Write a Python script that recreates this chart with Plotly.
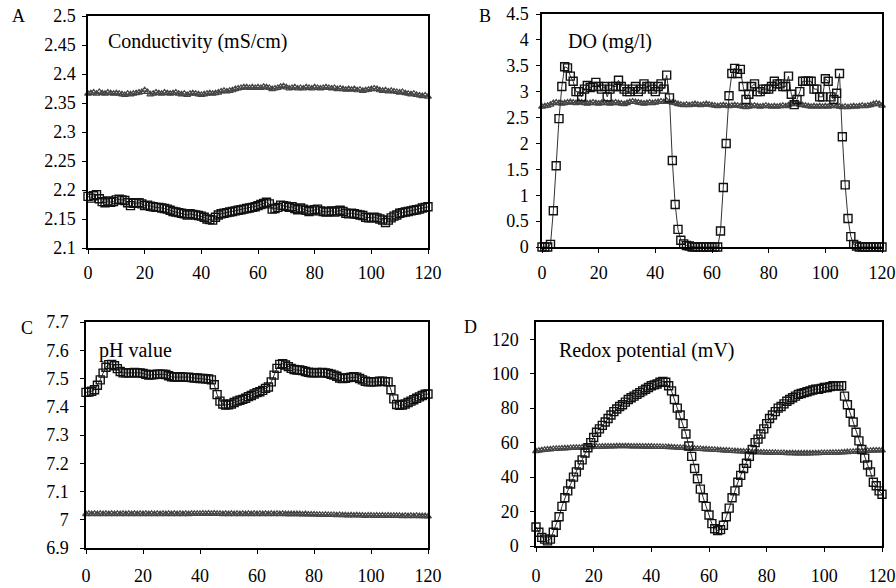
import plotly.graph_objects as go

minutes = list(range(0, 121))
x_ticks = [0, 20, 40, 60, 80, 100, 120]

cond_sq = [2.189, 2.186, 2.190, 2.192, 2.185, 2.180, 2.178, 2.181, 2.179, 2.180,
           2.183, 2.184, 2.183, 2.182, 2.178, 2.173, 2.177, 2.178, 2.178, 2.176,
           2.173, 2.174, 2.172, 2.171, 2.170, 2.170, 2.169, 2.168, 2.167, 2.165,
           2.163, 2.162, 2.161, 2.160, 2.159, 2.157, 2.159, 2.158, 2.157, 2.156,
           2.155, 2.153, 2.150, 2.149, 2.148, 2.153, 2.157, 2.159, 2.160, 2.161,
           2.162, 2.163, 2.164, 2.165, 2.166, 2.167, 2.168, 2.169, 2.170, 2.171,
           2.173, 2.175, 2.177, 2.179, 2.176, 2.167, 2.168, 2.170, 2.174, 2.173,
           2.172, 2.170, 2.171, 2.168, 2.166, 2.169, 2.167, 2.165, 2.163, 2.164,
           2.166, 2.167, 2.164, 2.163, 2.162, 2.163, 2.164, 2.162, 2.164, 2.165,
           2.163, 2.160, 2.159, 2.160, 2.159, 2.158, 2.157, 2.156, 2.153, 2.152,
           2.152, 2.153, 2.152, 2.150, 2.148, 2.144, 2.148, 2.152, 2.155, 2.157,
           2.160, 2.161, 2.162, 2.163, 2.164, 2.165, 2.166, 2.167, 2.169, 2.170,
           2.171]
cond_tri = [2.366, 2.367, 2.368, 2.366, 2.369, 2.367, 2.366, 2.368, 2.367, 2.366,
            2.367, 2.366, 2.365, 2.364, 2.366, 2.365, 2.366, 2.367, 2.368, 2.369,
            2.372, 2.369, 2.365, 2.366, 2.368, 2.367, 2.366, 2.368, 2.367, 2.366,
            2.367, 2.368, 2.366, 2.365, 2.366, 2.364, 2.366, 2.367, 2.366, 2.365,
            2.364, 2.365, 2.366, 2.367, 2.366, 2.367, 2.368, 2.370, 2.371, 2.370,
            2.371, 2.372, 2.374, 2.375, 2.376, 2.377, 2.377, 2.376, 2.377, 2.376,
            2.377, 2.376, 2.378, 2.377, 2.376, 2.374, 2.375, 2.376, 2.378, 2.379,
            2.377, 2.375, 2.376, 2.377, 2.375, 2.376, 2.375, 2.377, 2.376, 2.375,
            2.377, 2.376, 2.375, 2.376, 2.377, 2.376, 2.375, 2.376, 2.374, 2.375,
            2.374, 2.373, 2.374, 2.373, 2.374, 2.372, 2.373, 2.371, 2.372, 2.373,
            2.374, 2.375, 2.374, 2.372, 2.371, 2.372, 2.370, 2.371, 2.370, 2.369,
            2.368, 2.369, 2.367, 2.366, 2.365, 2.366, 2.364, 2.363, 2.362, 2.363,
            2.361]

do_sq = [0, 0, 0, 0.05, 0.7, 1.57, 2.48, 3.1, 3.48, 3.46,
         3.3, 3.2, 3.0, 3.0, 2.9, 3.05, 3.12, 3.08, 3.1, 3.18,
         3.1, 3.05, 3.1, 2.9, 3.05, 3.1, 3.1, 3.22, 3.1, 3.05,
         3.0, 3.0, 3.05, 3.1, 3.0, 3.05, 3.15, 3.1, 3.1, 3.05,
         3.0, 3.1, 3.15, 3.05, 3.32, 2.88, 1.67, 0.82, 0.34, 0.13,
         0.06, 0.03, 0.02, 0, 0, 0, 0, 0, 0, 0,
         0, 0, 0, 0.31, 1.15, 2.0, 2.92, 3.35, 3.45, 3.35,
         3.43, 3.1, 2.85, 2.95, 3.1, 3.15, 3.0, 3.0, 3.05, 3.05,
         3.05, 3.1, 3.2, 3.15, 3.15, 3.1, 3.1, 3.3, 2.95, 2.75,
         2.85, 3.0, 3.2, 3.2, 3.2, 3.2, 3.05, 3.05, 2.9, 2.9,
         3.25, 3.2, 2.9, 2.85, 2.97, 3.35, 2.13, 1.2, 0.55, 0.2,
         0.05, 0.02, 0, 0, 0, 0, 0, 0, 0, 0,
         0]
do_tri = [2.71, 2.72, 2.73, 2.75, 2.78, 2.79, 2.78, 2.77, 2.78, 2.79,
          2.80, 2.79, 2.78, 2.80, 2.79, 2.78, 2.77, 2.78, 2.79, 2.78,
          2.77, 2.78, 2.79, 2.78, 2.77, 2.78, 2.79, 2.78, 2.77, 2.76,
          2.78, 2.80, 2.81, 2.80, 2.79, 2.78, 2.77, 2.78, 2.79, 2.78,
          2.79, 2.80, 2.81, 2.80, 2.82, 2.80, 2.79, 2.78, 2.76, 2.75,
          2.74, 2.75, 2.74, 2.75, 2.76, 2.75, 2.74, 2.75, 2.76, 2.75,
          2.74, 2.73, 2.72, 2.73, 2.74, 2.73, 2.72, 2.73, 2.74, 2.73,
          2.72, 2.71, 2.70, 2.71, 2.72, 2.73, 2.72, 2.71, 2.72, 2.73,
          2.72, 2.71, 2.72, 2.71, 2.72, 2.73, 2.72, 2.74, 2.76, 2.77,
          2.76, 2.75, 2.74, 2.73, 2.72, 2.71, 2.72, 2.71, 2.72, 2.71,
          2.72, 2.71, 2.72, 2.73, 2.72, 2.71, 2.70, 2.71, 2.70, 2.71,
          2.72, 2.71, 2.72, 2.73, 2.72, 2.73, 2.74, 2.76, 2.77, 2.76,
          2.73]

ph_sq = [7.451, 7.452, 7.455, 7.46, 7.476, 7.495, 7.519, 7.54, 7.549, 7.55,
         7.545, 7.535, 7.525, 7.52, 7.52, 7.52, 7.52, 7.521, 7.52, 7.52,
         7.518, 7.515, 7.512, 7.513, 7.514, 7.515, 7.515, 7.515, 7.514, 7.51,
         7.506, 7.505, 7.505, 7.506, 7.505, 7.504, 7.505, 7.503, 7.502, 7.502,
         7.5, 7.5, 7.499, 7.498, 7.495, 7.478, 7.443, 7.42, 7.41, 7.406,
         7.407, 7.41, 7.415, 7.42, 7.423, 7.426, 7.43, 7.436, 7.44, 7.445,
         7.45, 7.453, 7.458, 7.465, 7.47, 7.488, 7.512, 7.536, 7.55, 7.552,
         7.548, 7.542, 7.536, 7.532, 7.53, 7.53, 7.528, 7.525, 7.522, 7.52,
         7.52, 7.521, 7.52, 7.521, 7.52, 7.518, 7.515, 7.512, 7.508, 7.502,
         7.5, 7.501, 7.503, 7.505, 7.506, 7.505, 7.5, 7.495, 7.49, 7.488,
         7.488, 7.489, 7.488, 7.49, 7.49, 7.489, 7.488, 7.46, 7.428, 7.408,
         7.405, 7.406, 7.41, 7.415, 7.42, 7.425, 7.43, 7.435, 7.44, 7.444,
         7.445]
ph_tri = [7.020, 7.021, 7.020, 7.021, 7.020, 7.021, 7.020, 7.021, 7.020, 7.021,
          7.020, 7.021, 7.020, 7.021, 7.020, 7.021, 7.020, 7.021, 7.020, 7.021,
          7.020, 7.021, 7.020, 7.021, 7.020, 7.021, 7.020, 7.021, 7.020, 7.021,
          7.020, 7.021, 7.020, 7.021, 7.020, 7.021, 7.020, 7.021, 7.021, 7.021,
          7.021, 7.022, 7.021, 7.022, 7.021, 7.022, 7.021, 7.021, 7.020, 7.021,
          7.020, 7.021, 7.020, 7.021, 7.020, 7.021, 7.020, 7.021, 7.020, 7.021,
          7.020, 7.021, 7.020, 7.021, 7.020, 7.021, 7.020, 7.021, 7.020, 7.021,
          7.020, 7.020, 7.020, 7.020, 7.020, 7.020, 7.019, 7.020, 7.019, 7.019,
          7.019, 7.018, 7.018, 7.017, 7.018, 7.017, 7.017, 7.017, 7.016, 7.017,
          7.016, 7.016, 7.015, 7.016, 7.015, 7.016, 7.015, 7.015, 7.014, 7.015,
          7.015, 7.014, 7.015, 7.014, 7.015, 7.014, 7.015, 7.014, 7.014, 7.014,
          7.014, 7.013, 7.014, 7.013, 7.014, 7.013, 7.014, 7.013, 7.013, 7.013,
          7.012]

orp_sq = [11, 8, 5, 4, 3, 4, 8, 12, 17, 23,
          28, 32, 36, 40, 43, 47, 50, 54, 57, 60,
          63, 66, 68, 70, 72, 74, 76, 78, 79.5, 81,
          82, 83.5, 85, 86, 87, 88, 89, 90, 91, 92,
          93, 93.5, 94, 95, 95.5, 95, 93, 90, 85, 80,
          76, 71, 65, 58, 52, 45, 39, 33, 28, 23,
          18, 13, 10, 9, 9.5, 12, 17, 22, 28, 32,
          37, 41, 45, 48, 52, 56, 60, 62, 65, 68,
          71, 74, 76, 78, 80, 81, 82.5, 84, 85, 86,
          87, 88, 88.5, 89, 89.5, 90, 90.5, 91, 91, 91.5,
          92, 92, 92.5, 93, 93, 93, 93, 87, 82, 77,
          72, 66, 61, 56, 51, 47, 43, 37, 35, 32,
          30]
orp_tri = [55.0, 55.3, 55.6, 55.8, 56.0, 56.1, 56.3, 56.4, 56.5, 56.6,
           56.7, 56.8, 56.9, 57.0, 57.1, 57.1, 57.2, 57.3, 57.3, 57.4,
           57.5, 57.6, 57.6, 57.7, 57.7, 57.8, 57.8, 57.8, 57.9, 57.9,
           57.9, 57.9, 57.9, 57.8, 57.8, 57.8, 57.8, 57.7, 57.7, 57.7,
           57.7, 57.6, 57.6, 57.6, 57.5, 57.5, 57.4, 57.3, 57.2, 57.1,
           57.0, 56.9, 56.8, 56.7, 56.6, 56.5, 56.4, 56.3, 56.2, 56.1,
           56.0, 55.9, 55.8, 55.7, 55.6, 55.5, 55.4, 55.3, 55.2, 55.1,
           55.0, 54.9, 54.8, 54.7, 54.6, 54.5, 54.4, 54.4, 54.3, 54.3,
           54.2, 54.2, 54.1, 54.1, 54.0, 54.0, 54.0, 53.9, 53.9, 53.9,
           53.8, 53.8, 53.8, 53.8, 53.8, 53.8, 53.9, 53.9, 53.9, 54.0,
           54.0, 54.0, 54.1, 54.1, 54.2, 54.2, 54.3, 54.4, 54.5, 54.6,
           54.7, 54.8, 54.9, 55.0, 55.1, 55.2, 55.3, 55.4, 55.5, 55.5,
           55.5]

panels = [
    # (label, title, squares, triangles, yrange, ytick step)
    ("A", "Conductivity (mS/cm)", cond_sq, cond_tri, [2.1, 2.5], 0.05),
    ("B", "DO (mg/l)", do_sq, do_tri, [0, 4.5], 0.5),
    ("C", "pH value", ph_sq, ph_tri, [6.9, 7.7], 0.1),
    ("D", "Redox potential (mV)", orp_sq, orp_tri, [0, 130], 20),
]

W, H = 896, 588
# plot boxes in window pixels: left, right, top, bottom
boxes = [(88, 428, 16, 248), (542, 882, 14, 247), (86, 428, 322, 548), (536, 882, 322, 546)]
label_pos = [(18, 16), (485, 16), (27, 328), (470, 327)]
title_pos = [(106, 41), (566, 42), (97, 350), (557, 350)]
y_standoff = [3, 4, 8, 8]
x_standoff = [4, 5, 7, 9]


def px(v):
    return v / W


def py(v):
    return 1 - v / H


FONT = "Times New Roman, Liberation Serif, serif"
fig = go.Figure()
annotations = []
for i, (lab, title, sq, tri, yr, dy) in enumerate(panels):
    n = i + 1
    xa = "x" if n == 1 else f"x{n}"
    ya = "y" if n == 1 else f"y{n}"
    fig.add_trace(go.Scatter(
        x=minutes, y=tri, mode="lines+markers", xaxis=xa, yaxis=ya,
        line=dict(color="#555555", width=1),
        marker=dict(symbol="triangle-up-open", size=6, color="#444444", line=dict(width=1.2)),
        cliponaxis=False, showlegend=False))
    fig.add_trace(go.Scatter(
        x=minutes, y=sq, mode="lines+markers", xaxis=xa, yaxis=ya,
        line=dict(color="#333333", width=1),
        marker=dict(symbol="square-open", size=8, color="#111111", line=dict(width=1.4)),
        cliponaxis=False, showlegend=False))
    l, r, t, b = boxes[i]
    axis_common = dict(showline=True, linecolor="black", linewidth=1.5, mirror=True,
                       ticks="outside", ticklen=4, tickcolor="black", showgrid=False,
                       zeroline=False, automargin=False, ticklabeloverflow="allow",
                       tickfont=dict(family=FONT, size=18, color="black"))
    xkey = "xaxis" if n == 1 else f"xaxis{n}"
    ykey = "yaxis" if n == 1 else f"yaxis{n}"
    fig.update_layout(**{
        xkey: dict(domain=[px(l), px(r)], anchor=ya, range=[0, 120], tickvals=x_ticks,
                   ticklabelstandoff=x_standoff[i], **axis_common),
        ykey: dict(domain=[py(b), py(t)], anchor=xa, range=yr, dtick=dy,
                   tick0=yr[0], ticklabelstandoff=y_standoff[i], **axis_common),
    })
    lx, ly = label_pos[i]
    annotations.append(dict(x=px(lx), y=py(ly), xref="paper", yref="paper", text=lab,
                            showarrow=False, xanchor="center", yanchor="middle",
                            font=dict(family=FONT, size=18, color="black")))
    tx, ty = title_pos[i]
    annotations.append(dict(x=px(tx), y=py(ty), xref="paper", yref="paper", text=title,
                            showarrow=False, xanchor="left", yanchor="middle",
                            font=dict(family=FONT, size=20, color="black")))

fig.update_layout(width=W, height=H, margin=dict(l=0, r=0, t=0, b=0),
                  paper_bgcolor="white", plot_bgcolor="white", annotations=annotations,
                  font=dict(family=FONT, color="black"), hovermode=False)
# remove the default 8px page margin so the 896x588 figure fills the window exactly
fig.write_html("out.html", config={"displayModeBar": False},
               post_script="document.body.style.margin='0';document.body.style.overflow='hidden';")
